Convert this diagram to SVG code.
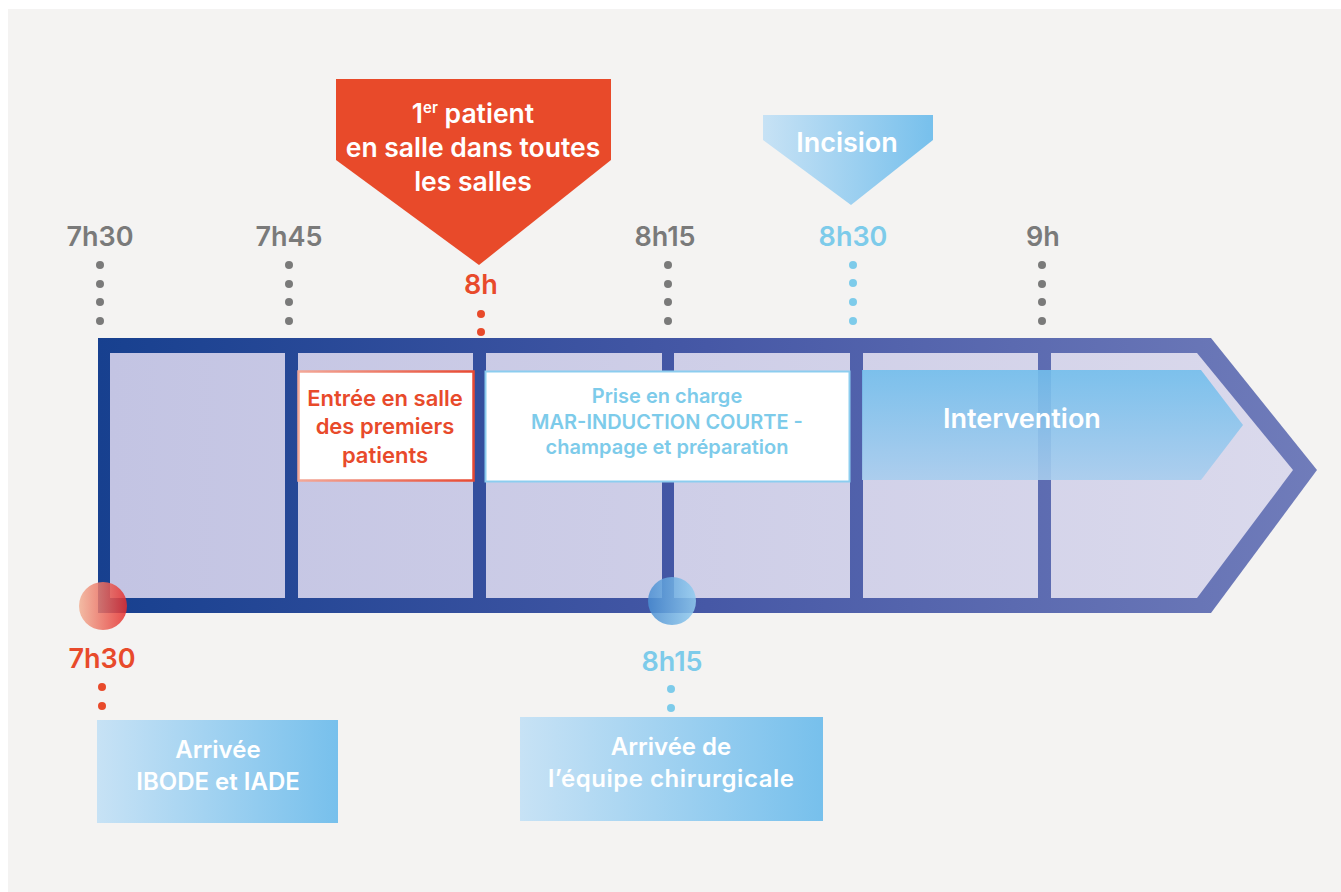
<svg xmlns="http://www.w3.org/2000/svg" width="1341" height="892" viewBox="0 0 1341 892">
<defs>
<linearGradient id="gFrame" x1="98" y1="0" x2="1317" y2="0" gradientUnits="userSpaceOnUse"><stop offset="0" stop-color="#17408F"/><stop offset="0.5" stop-color="#4658A6"/><stop offset="1" stop-color="#707CBA"/></linearGradient>
<linearGradient id="gCell" x1="110" y1="0" x2="1293" y2="0" gradientUnits="userSpaceOnUse"><stop offset="0" stop-color="#C3C4E3"/><stop offset="1" stop-color="#DAD9EC"/></linearGradient>
<linearGradient id="gBlueH" x1="0" y1="0" x2="1" y2="0"><stop offset="0" stop-color="#C7E2F5"/><stop offset="1" stop-color="#77C0EC"/></linearGradient>
<linearGradient id="gBand" x1="0" y1="0" x2="0" y2="1"><stop offset="0" stop-color="#72BEEC"/><stop offset="1" stop-color="#A8CDEE"/></linearGradient>
<linearGradient id="gRedC" x1="0" y1="0" x2="1" y2="0"><stop offset="0" stop-color="#F2B196"/><stop offset="1" stop-color="#E42C2C"/></linearGradient>
<linearGradient id="gBlueC" x1="0" y1="0" x2="1" y2="0"><stop offset="0" stop-color="#4A8ED2"/><stop offset="1" stop-color="#92CDF0"/></linearGradient>
<linearGradient id="gRedB" x1="0" y1="0" x2="1" y2="0"><stop offset="0" stop-color="#F3A898"/><stop offset="1" stop-color="#E84A33"/></linearGradient>
</defs>
<style>
text{font-family:Inter,Lato,"Noto Sans","DejaVu Sans",sans-serif;text-anchor:middle;font-weight:600}
.gray{fill:#7A7A7A;font-size:27px}
.gdot{fill:#7A7A7A}
.red{fill:#E84A2B}
.lb{fill:#7DCBEA}
.w{fill:#FFFFFF}
</style>
<rect x="8" y="9" width="1333" height="883" fill="#F4F3F2"/>

<g id="timeline">
<polygon points="98,338 1211,338 1317,470 1211,613 98,613" fill="url(#gFrame)"/>
<rect x="110" y="353" width="175" height="245" fill="url(#gCell)"/>
<rect x="298" y="353" width="175" height="245" fill="url(#gCell)"/>
<rect x="486" y="353" width="176" height="245" fill="url(#gCell)"/>
<rect x="674" y="353" width="176" height="245" fill="url(#gCell)"/>
<rect x="863" y="353" width="175" height="245" fill="url(#gCell)"/>
<polygon points="1051,353 1197,353 1293,470 1197,598 1051,598" fill="url(#gCell)"/>
</g>

<g id="ticks-top">
<text class="gray" x="100" y="246">7h30</text>
<g class="gdot"><circle cx="100" cy="265" r="4"/><circle cx="100" cy="284" r="4"/><circle cx="100" cy="302" r="4"/><circle cx="100" cy="321" r="4"/></g>
<text class="gray" x="289" y="246">7h45</text>
<g class="gdot"><circle cx="289" cy="265" r="4"/><circle cx="289" cy="284" r="4"/><circle cx="289" cy="302" r="4"/><circle cx="289" cy="321" r="4"/></g>
<text class="gray" x="665" y="246">8h15</text>
<g class="gdot"><circle cx="668" cy="265" r="4"/><circle cx="668" cy="284" r="4"/><circle cx="668" cy="302" r="4"/><circle cx="668" cy="321" r="4"/></g>
<text class="gray" x="1043" y="246">9h</text>
<g class="gdot"><circle cx="1042" cy="265" r="4"/><circle cx="1042" cy="284" r="4"/><circle cx="1042" cy="302" r="4"/><circle cx="1042" cy="321" r="4"/></g>
</g>

<g id="premier-patient">
<polygon points="336,79 611,79 611,160 479,265 336,160" fill="#E84A2A"/>
<text class="w" x="473" y="123" font-size="26.5"><tspan>1</tspan><tspan font-size="15" dy="-10">er</tspan><tspan dy="10"> patient</tspan></text>
<text class="w" x="473" y="157" font-size="26.5">en salle dans toutes</text>
<text class="w" x="473" y="191" font-size="26.5">les salles</text>
<text class="red" x="481" y="294" font-size="27">8h</text>
<circle cx="481" cy="314" r="4" fill="#E84A2B"/>
<circle cx="481" cy="332" r="4" fill="#E84A2B"/>
</g>

<g id="incision">
<polygon points="763,115 933,115 933,140 851,205 763,140" fill="url(#gBlueH)"/>
<text class="w" x="847" y="152" font-size="27">Incision</text>
<text class="lb" x="853" y="246" font-size="27">8h30</text>
<g fill="#7DCBEA"><circle cx="853" cy="265" r="4"/><circle cx="853" cy="283" r="4"/><circle cx="853" cy="302" r="4"/><circle cx="853" cy="321" r="4"/></g>
</g>

<g id="entree">
<rect x="298.5" y="371.5" width="175" height="109" fill="#FFFFFF" stroke="url(#gRedB)" stroke-width="2.5"/>
<text class="red" x="385" y="406" font-size="22">Entrée en salle</text>
<text class="red" x="385" y="434" font-size="22">des premiers</text>
<text class="red" x="385" y="463" font-size="22">patients</text>
</g>

<g id="prise-en-charge">
<rect x="485.5" y="371.5" width="364" height="110" fill="#FFFFFF" stroke="#8CCDEF" stroke-width="2"/>
<text class="lb" x="667" y="403" font-size="20">Prise en charge</text>
<text class="lb" x="667" y="429" font-size="20">MAR-INDUCTION COURTE -</text>
<text class="lb" x="667" y="454" font-size="20">champage et préparation</text>
</g>

<g id="intervention">
<polygon points="862,370 1201,370 1243,425 1201,480 862,480" fill="url(#gBand)" opacity="0.9"/>
<text class="w" x="1022" y="428" font-size="27">Intervention</text>
</g>

<g id="arrivee-ibode">
<circle cx="103" cy="606" r="24" fill="url(#gRedC)" opacity="0.85"/>
<text class="red" x="102" y="668" font-size="27">7h30</text>
<circle cx="102" cy="687" r="4" fill="#E84A2B"/>
<circle cx="102" cy="706" r="4" fill="#E84A2B"/>
<rect x="97" y="720" width="241" height="103" fill="url(#gBlueH)"/>
<text class="w" x="218" y="758" font-size="24">Arrivée</text>
<text class="w" x="218" y="790" font-size="24">IBODE et IADE</text>
</g>

<g id="arrivee-equipe">
<circle cx="672" cy="601" r="24" fill="url(#gBlueC)" opacity="0.85"/>
<text class="lb" x="672" y="671" font-size="27">8h15</text>
<circle cx="671" cy="689" r="4" fill="#7DCBEA"/>
<circle cx="671" cy="708" r="4" fill="#7DCBEA"/>
<rect x="520" y="717" width="303" height="104" fill="url(#gBlueH)"/>
<text class="w" x="671" y="755" font-size="24">Arrivée de</text>
<text class="w" x="671" y="787" font-size="24" textLength="246" lengthAdjust="spacing">l’équipe chirurgicale</text>
</g>
</svg>
